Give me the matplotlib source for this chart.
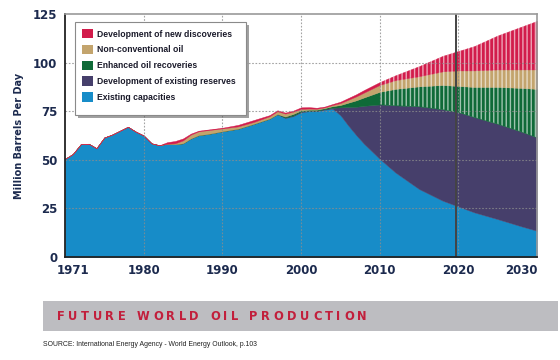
import matplotlib
matplotlib.use("Agg")
import matplotlib.pyplot as plt
import numpy as np
from matplotlib.patches import Patch, Rectangle
from matplotlib.font_manager import FontProperties
from matplotlib.textpath import text_to_path

years = [1970, 1971, 1972, 1973, 1974, 1975, 1976, 1977, 1978, 1979,
         1980, 1981, 1982, 1983, 1984, 1985, 1986, 1987, 1988, 1989,
         1990, 1992, 1994, 1996, 1997, 1998, 1999, 2000, 2001, 2002,
         2003, 2004, 2005, 2006, 2007, 2008, 2010, 2012, 2015, 2018,
         2020, 2022, 2025, 2028, 2030]

existing = [50.5, 53, 58, 58.3, 56, 61.5, 63, 65, 67, 64.5,
            62.5, 58.5, 57.5, 58.3, 58, 58.5, 61, 62.7, 63.2, 63.9,
            64.7, 66, 68.5, 71.2, 73.5, 71.5, 72.5, 74.5, 75, 75,
            75.8, 76.3, 73, 67.7, 62.8, 58.3, 50.5, 43.5, 35, 29,
            26, 23, 19.5, 15.8, 13.5]
reserves = [0, 0, 0, 0, 0, 0, 0, 0, 0, 0,
            0, 0, 0, 0, 0, 0, 0, 0, 0, 0,
            0, 0, 0, 0, 0, 0.3, 0.3, 0.3, 0.3, 0.3,
            0.3, 0.5, 4, 9.5, 14.5, 19.5, 28, 34.5, 42.5, 47,
            48.5, 49, 49, 48.7, 48]
enhanced = [0, 0, 0, 0, 0, 0, 0, 0, 0, 0,
            0, 0, 0, 0, 0, 0, 0, 0, 0, 0,
            0, 0, 0, 0, 0, 0.5, 0.8, 0.6, 0.5, 0.5,
            0.5, 0.8, 1.2, 2.2, 3.3, 4.3, 6.5, 8.5, 10.3, 12.5,
            13.5, 15.5, 19, 22.5, 25]
nonconv = [0, 0, 0, 0, 0, 0, 0, 0, 0, 0,
           0, 0, 0, 0, 0.5, 1.5, 2, 2, 2, 1.8,
           1.5, 1.2, 1, 1.2, 1.5, 1.5, 1.2, 0.8, 0.6, 0.5,
           0.4, 0.6, 1, 1.5, 2, 2.5, 3.5, 4.5, 5.2, 7,
           8, 8.5, 9, 9.5, 10]
discoveries = [0, 0, 0, 0, 0, 0, 0, 0, 0, 0,
               0, 0, 0, 0.8, 1.2, 1, 0.5, 0.3, 0.3, 0.3,
               0.3, 0.8, 1, 0.6, 0.5, 0.5, 0.5, 0.8, 0.7, 0.5,
               0.4, 0.5, 0.7, 0.9, 1.1, 1.3, 1.5, 2.5, 5.2, 8,
               10, 12.5, 17.5, 22, 25]

series_names = ["Existing capacities", "Development of existing reserves",
                "Enhanced oil recoveries", "Non-conventional oil",
                "Development of new discoveries"]
series_colors = ["#178cc8", "#463f6b", "#0f6a38", "#c3a46d", "#d21c4b"]

tick_years = [1971, 1980, 1990, 2000, 2010, 2020, 2028]
tick_labels = ["1971", "1980", "1990", "2000", "2010", "2020", "2030"]
y_ticks = [0, 25, 50, 75, 100, 125]
projection_start = 2010
marker_year = 2019.7

navy = "#1c2a4e"
W, H = 560, 360


def text_px(s, fp):
    # width of a string in pixels at dpi 100
    return text_to_path.get_text_width_height_descent(s, fp, ismath=False)[0] * 100 / 72


fig = plt.figure(figsize=(5.6, 3.6), dpi=100)
ax = fig.add_axes([0.116, 0.286, 0.843, 0.675])

x = np.array(years, dtype=float)
layers = [np.array(s, dtype=float) for s in
          [existing, reserves, enhanced, nonconv, discoveries]]
base = np.zeros_like(x)
future = x >= projection_start
for i, (vals, col) in enumerate(zip(layers, series_colors)):
    top = base + vals
    ax.fill_between(x, base, top, facecolor=col, edgecolor=col, lw=0.3, zorder=2)
    if i >= 2:
        ax.fill_between(x, base, top, where=future, facecolor="none",
                        edgecolor=(1, 1, 1, 0.6), hatch="||||", lw=0, zorder=2.5)
    base = top

ax.set_xlim(1970, 2030)
ax.set_ylim(0, 125)

# dotted grid drawn over the areas
for yv in [25, 50, 75, 100]:
    ax.axhline(yv, color="#8c8c8c", lw=0.8, ls=(0, (1.5, 1.5)), alpha=0.8, zorder=3)
for xv in [1980, 1990, 2000, 2010, 2020]:
    ax.axvline(xv, color="#8c8c8c", lw=0.8, ls=(0, (1.5, 1.5)), alpha=0.8, zorder=3)
ax.axvline(marker_year, color="#444444", lw=1.4, zorder=4)

ax.set_xticks(tick_years)
ax.set_xticklabels(tick_labels)
ax.set_yticks(y_ticks)
ax.tick_params(length=0, labelsize=8.5, labelcolor=navy)
ax.tick_params(axis="x", pad=5)
ax.tick_params(axis="y", pad=5.5)
for lab in ax.get_xticklabels() + ax.get_yticklabels():
    lab.set_fontweight("bold")
ax.set_ylabel("Million Barrels Per Day", fontsize=7, fontweight="bold",
              color=navy, labelpad=6)

for side in ["left", "bottom"]:
    ax.spines[side].set_color("#222222")
    ax.spines[side].set_linewidth(1.3)
for side in ["top", "right"]:
    ax.spines[side].set_color("#9a9a9a")
    ax.spines[side].set_linewidth(1.2)
for sp in ax.spines.values():
    sp.set_zorder(5)

# legend: frame and shadow drawn by hand, entries by fig.legend
leg_fp = FontProperties(family="Liberation Sans", weight="bold", size=6.2)
fs_px = leg_fp.get_size_in_points() * 100 / 72
text_end = 97 + text_px(max(series_names, key=len), leg_fp)
bx0, by0, bx1, by1 = 75, 22, max(245, text_end + 12), 115
fig.add_artist(Rectangle(((bx0 + 3) / W, 1 - (by1 + 3) / H), (bx1 - bx0) / W,
                         (by1 - by0) / H, transform=fig.transFigure,
                         facecolor="#555555", alpha=0.55, edgecolor="none", zorder=9))
fig.add_artist(Rectangle((bx0 / W, 1 - by1 / H), (bx1 - bx0) / W, (by1 - by0) / H,
                         transform=fig.transFigure, facecolor="white",
                         edgecolor="#8a8a8a", lw=0.8, zorder=9.5))
handles = [Patch(facecolor=c, edgecolor="none") for c in series_colors[::-1]]
leg = fig.legend(handles, series_names[::-1], loc="upper left",
                 bbox_to_anchor=(82 / W, 1 - 29 / H), bbox_transform=fig.transFigure,
                 prop=leg_fp, handlelength=11 / fs_px, handleheight=11 / fs_px,
                 handletextpad=4 / fs_px, labelspacing=6.3 / fs_px,
                 borderpad=0, borderaxespad=0, frameon=False)
leg.set_zorder(10)
for t in leg.get_texts():
    t.set_color("#1a1a2a")

# title banner
fig.add_artist(Rectangle((43 / W, 1 - 331 / H), 515 / W, 30 / H,
                         transform=fig.transFigure, facecolor="#bdbdc1",
                         edgecolor="none"))
title = "FUTURE WORLD OIL PRODUCTION"
fp = FontProperties(family="DejaVu Sans", weight="bold", size=8.3)
widths = [text_px(ch, fp) for ch in title]
span = 367 - 57
tracking = (span - sum(widths)) / (len(title) - 1)
xpos = 57.0
for ch, w in zip(title, widths):
    fig.text(xpos / W, 1 - 317 / H, ch, fontproperties=fp, color="#c21f3c",
             va="center", ha="left")
    xpos += w + tracking

source = "SOURCE: International Energy Agency - World Energy Outlook, p.103"
src_fp = FontProperties(family="Liberation Sans", size=5)
src_fp.set_size(5 * 214 / text_px(source, src_fp))
fig.text(43 / W, 1 - 344 / H, source, fontproperties=src_fp,
         color="#222222", va="center", ha="left")

fig.savefig("out.png", dpi=100)
